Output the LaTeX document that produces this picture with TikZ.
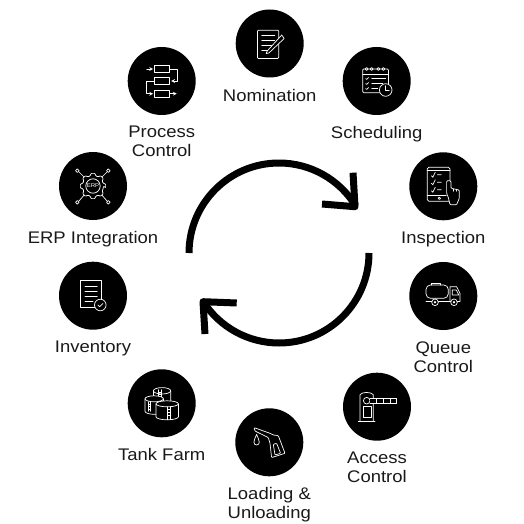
\documentclass[tikz,border=0pt]{standalone}
\usepackage{fontspec}
\setmainfont[FakeStretch=1.1]{Liberation Sans}
\usetikzlibrary{positioning}
\tikzset{stepcircle/.style={circle,fill=black,minimum size=68pt,inner sep=0pt}}
\tikzset{steplabel/.style={below=11pt of #1,inner sep=0pt,align=center,font=\fontsize{16.8}{19}\selectfont,text=black!90}}
\tikzset{iconline/.style={draw=white,line width=0.7pt,line join=round,line cap=round}}
\tikzset{cycleline/.style={draw=black,line width=7pt,line join=round}}
\tikzset{pics/nominationicon/.style={code={
  \draw[iconline,rounded corners=1pt] (-12.3,13.3) rectangle (9,-15);
  \draw[iconline] (-8,8.5) -- (5,8.5) (-8,3.5) -- (5,3.5) (-8,-1.5) -- (3,-1.5) (-8,-7) -- (0,-7);
  \draw[iconline,fill=black] (-2.5,-7.5) -- (-3.5,-10) -- (-0.8,-9.5) -- (14.5,5) -- (12,8.5) -- cycle;
}}}
\tikzset{pics/processicon/.style={code={
  \draw[iconline] (-7.3,15.3) rectangle (7.7,8.3) (-7.3,3.7) rectangle (7.7,-3.3) (-7.3,-9) rectangle (7.7,-16);
  \draw[iconline,->,>=stealth] (-15,12) -- (-8.6,12);
  \draw[iconline,->,>=stealth] (7.7,12) -- (15.7,12) -- (15.7,0) -- (9.5,0);
  \draw[iconline,->,>=stealth] (-7.3,0) -- (-15,0) -- (-15,-12.7) -- (-8.6,-12.7);
  \draw[iconline,->,>=stealth] (7.7,-12.7) -- (15,-12.7);
}}}
\tikzset{pics/schedulingicon/.style={code={
  \draw[iconline,rounded corners=1pt] (-14,12) rectangle (11.7,-11.7);
  \draw[iconline] (-14,7) -- (11.7,7);
  \draw[iconline] (-10,12) circle (1.5) (-5,12) circle (1.5) (1.7,12) circle (1.5) (6.7,12) circle (1.5);
  \draw[iconline] (-11,2.5) -- (-10,1.5) -- (-8,3.5) (-5,2.5) -- (9,2.5);
  \draw[iconline] (-11,-2.5) -- (-10,-3.5) -- (-8,-1.5) (-5,-2.5) -- (6,-2.5);
  \draw[iconline] (-11,-7.5) -- (-10,-8.5) -- (-8,-6.5) (-5,-7.5) -- (1,-7.5);
  \draw[iconline,fill=black] (9,-9) circle (6.3);
  \draw[iconline] (9,-4.8) -- (9,-9) -- (12.5,-9);
}}}
\tikzset{pics/gearicon/.style={code={
  \draw[iconline] (-14,14) -- (-8,8) (14,14) -- (8,8) (-14,-15) -- (-8,-8) (14,-15) -- (8,-8);
  \draw[iconline,fill=black,rounded corners=0.8pt] (0:10.5)
    \foreach \a in {0,45,...,315} {
      -- (\a-9:12.8) -- (\a+9:12.8) -- (\a+15:10.5) -- (\a+30:10.5) }
    -- cycle;
  \draw[iconline] (0,0) circle (7.2);
  \draw[iconline,fill=black] (-15.7,15.3) circle (1.8) (15.3,15.3) circle (1.8) (-15.7,-16.3) circle (1.8) (15.3,-16.3) circle (1.8);
  \node[inner sep=0pt,text=white,font=\fontsize{5.5}{6}\selectfont] (erpname) at (0,0) {ERP};
}}}
\tikzset{pics/inventoryicon/.style={code={
  \draw[iconline] (-12.3,15) rectangle (8.7,-12);
  \draw[iconline] (-8,9) -- (4.3,9) (-8,4) -- (4.3,4) (-8,-1) -- (4.3,-1) (-8,-6) -- (0,-6);
  \draw[iconline,fill=black] (7.3,-9.3) circle (5.8);
  \draw[iconline] (4.8,-9.3) -- (6.6,-11) -- (10,-7.8);
}}}
\tikzset{pics/inspectionicon/.style={code={
  \draw[iconline,rounded corners=1.5pt] (-16,19) rectangle (6.7,-15);
  \draw[iconline] (-16,15.7) -- (6.7,15.7) (-16,-8.7) -- (3,-8.7);
  \draw[iconline] (-4,-12) circle (1.2);
  \draw[iconline] (-12,10.5) -- (-10.5,9) -- (-8,14) (-6,11.5) -- (-2,11.5);
  \draw[iconline] (-12,3) -- (-10.5,1.5) -- (-8,6.5) (-6,4) -- (-2,4);
  \draw[iconline] (-12,-4.5) -- (-10.5,-6) -- (-8,-1) (-6,-3.5) -- (-2,-3.5);
  \draw[iconline,fill=black,rounded corners=1pt] (6.7,-18.5) -- (5,-11) -- (3.3,-7) -- (3.3,5.5) -- (7.7,5.5) -- (7.7,-2) -- (16,-3.7) -- (16,-12) -- (13.3,-18.5) -- cycle;
  \draw[iconline] (10,-2.8) -- (10,-5) (13,-3) -- (13,-5);
}}}
\tikzset{pics/truckicon/.style={code={
  \draw[iconline,rounded corners=4.5pt] (-17.3,11) rectangle (5,-2.3);
  \draw[iconline] (-11.5,11) -- (-11.5,12.5) -- (-3,12.5) -- (-3,11);
  \draw[iconline] (-17.3,-5) -- (16.7,-5);
  \draw[iconline] (6.7,-5) -- (6.7,9.3) -- (13.3,9.3) -- (16.7,2.7) -- (16.7,-5);
  \draw[iconline] (9,6) -- (13,6) -- (15.5,1) -- (9,1) -- cycle;
  \draw[iconline,fill=black] (-8.3,-6.3) circle (3.3) (10.7,-6.3) circle (3.3);
  \draw[iconline] (-8.3,-6.3) circle (0.9) (10.7,-6.3) circle (0.9);
}}}
\tikzset{pics/tankicon/.style={code={
  \draw[iconline,fill=black] (-8.3,12.5) -- (-8.3,-8) -- (9,-8) -- (9,12.5) arc (0:180:8.65 and 3.2) -- cycle;
  \draw[iconline] (-8.3,12.5) arc (180:360:8.65 and 3.2);
  \draw[iconline] (-3.3,13.5) -- (-3.3,5) (0,13.5) -- (0,5) (-3.3,11) -- (0,11) (-3.3,8.5) -- (0,8.5);
  \draw[iconline,fill=black] (-16.7,4.5) -- (-16.7,-8) arc (180:360:9.2 and 3) -- (1.7,4.5) arc (0:180:9.2 and 3) -- cycle;
  \draw[iconline] (-16.7,4.5) arc (180:360:9.2 and 3);
  \draw[iconline] (-13.3,1.5) -- (-13.3,-8) (-11,1.5) -- (-11,-8) (-13.3,-1) -- (-11,-1) (-13.3,-3.5) -- (-11,-3.5) (-13.3,-6) -- (-11,-6);
  \draw[iconline,fill=black] (-5.7,-0.5) -- (-5.7,-13.5) arc (180:360:11.2 and 3) -- (16.7,-0.5) arc (0:180:11.2 and 3) -- cycle;
  \draw[iconline] (-5.7,-0.5) arc (180:360:11.2 and 3);
  \draw[iconline] (5.7,-3.5) -- (5.7,-16.5) (9,-3.5) -- (9,-16.5) (5.7,-6.5) -- (9,-6.5) (5.7,-9.5) -- (9,-9.5) (5.7,-12.5) -- (9,-12.5);
}}}
\tikzset{pics/nozzleicon/.style={code={
  \draw[iconline,rounded corners=0.8pt] (-15.3,14.7) -- (0.7,9) -- (4,7.3) -- (9,6.7) -- (15.7,-11) -- (2.3,-15.3) -- (0.7,-1) -- (-1,4.7) -- (-14.3,11.3) -- cycle;
  \draw[iconline,rounded corners=0.8pt] (4,-2) -- (7.3,-1) -- (11.3,-11) -- (5.7,-12.7) -- cycle;
  \draw[iconline] (-12.7,8) .. controls (-11.5,4.5) and (-10,2.5) .. (-10,0) .. controls (-10,-3.6) and (-15.4,-3.6) .. (-15.4,0) .. controls (-15.4,2.5) and (-13.9,4.5) .. (-12.7,8) -- cycle;
}}}
\tikzset{pics/gateicon/.style={code={
  \draw[iconline] (-17,-14.7) -- (-17,12) .. controls (-15,15) and (-6,15) .. (-3.7,12) -- (-3.7,-14.7);
  \draw[iconline] (-18.7,-14.7) -- (-2,-14.7);
  \draw[iconline] (-13.7,-10.7) rectangle (-6,0);
  \draw[iconline,fill=black] (-10.3,6) circle (3.3);
  \draw[iconline,fill=black] (-7,8.3) -- (19.7,8.3) -- (19.7,3.3) -- (-7,3.3);
  \draw[iconline] (-0.3,8.3) -- (-0.3,3.3) (6.3,8.3) -- (6.3,3.3) (13,8.3) -- (13,3.3);
}}}
\begin{document}
\begin{tikzpicture}[x=1pt,y=1pt]
\useasboundingbox (0,0) rectangle (524,523);
% steps
\node[stepcircle] (nomination) at (269.7,479.5) {};
\node[stepcircle] (scheduling) at (376.7,442) {};
\node[stepcircle] (inspection) at (443.3,336.7) {};
\node[stepcircle] (queue) at (443.3,227) {};
\node[stepcircle] (access) at (377,116.3) {};
\node[stepcircle] (loading) at (269.3,80.7) {};
\node[stepcircle] (tankfarm) at (161.7,119.7) {};
\node[stepcircle] (inventory) at (93,227.3) {};
\node[stepcircle] (erp) at (93,337) {};
\node[stepcircle] (process) at (161.7,442) {};
% icons
\pic at (nomination) {nominationicon};
\pic at (scheduling) {schedulingicon};
\pic at (inspection) {inspectionicon};
\pic at (queue) {truckicon};
\pic at (access) {gateicon};
\pic at (loading) {nozzleicon};
\pic at (tankfarm) {tankicon};
\pic at (inventory) {inventoryicon};
\pic at (erp) {gearicon};
\pic at (process) {processicon};
% labels
\node[steplabel=nomination] (nominationtext) {Nomination};
\node[steplabel=scheduling] (schedulingtext) {Scheduling};
\node[steplabel=inspection] (inspectiontext) {Inspection};
\node[steplabel=queue] (queuetext) {Queue\\Control};
\node[steplabel=access] (accesstext) {Access\\Control};
\node[steplabel=loading] (loadingtext) {Loading \&\\Unloading};
\node[steplabel=tankfarm] (tankfarmtext) {Tank Farm};
\node[steplabel=inventory] (inventorytext) {Inventory};
\node[steplabel=erp] (erptext) {ERP Integration};
\node[steplabel=process] (processtext) {Process\\Control};
% cycle arrows
\coordinate (topstart) at (189,270);
\coordinate (toptip) at (355,316.3);
\coordinate (topbarba) at (353,350.3);
\coordinate (topbarbb) at (322,319);
\coordinate (lowstart) at (369,270);
\coordinate (lowtip) at (203,221.3);
\coordinate (lowbarba) at (205,189);
\coordinate (lowbarbb) at (236.7,220);
\draw[cycleline] (topstart) arc (180:31.4:90);
\draw[cycleline] (topbarba) -- (toptip) -- (topbarbb);
\draw[cycleline] (lowstart) arc (0:-147.4:90);
\draw[cycleline] (lowbarba) -- (lowtip) -- (lowbarbb);
\end{tikzpicture}
\end{document}
